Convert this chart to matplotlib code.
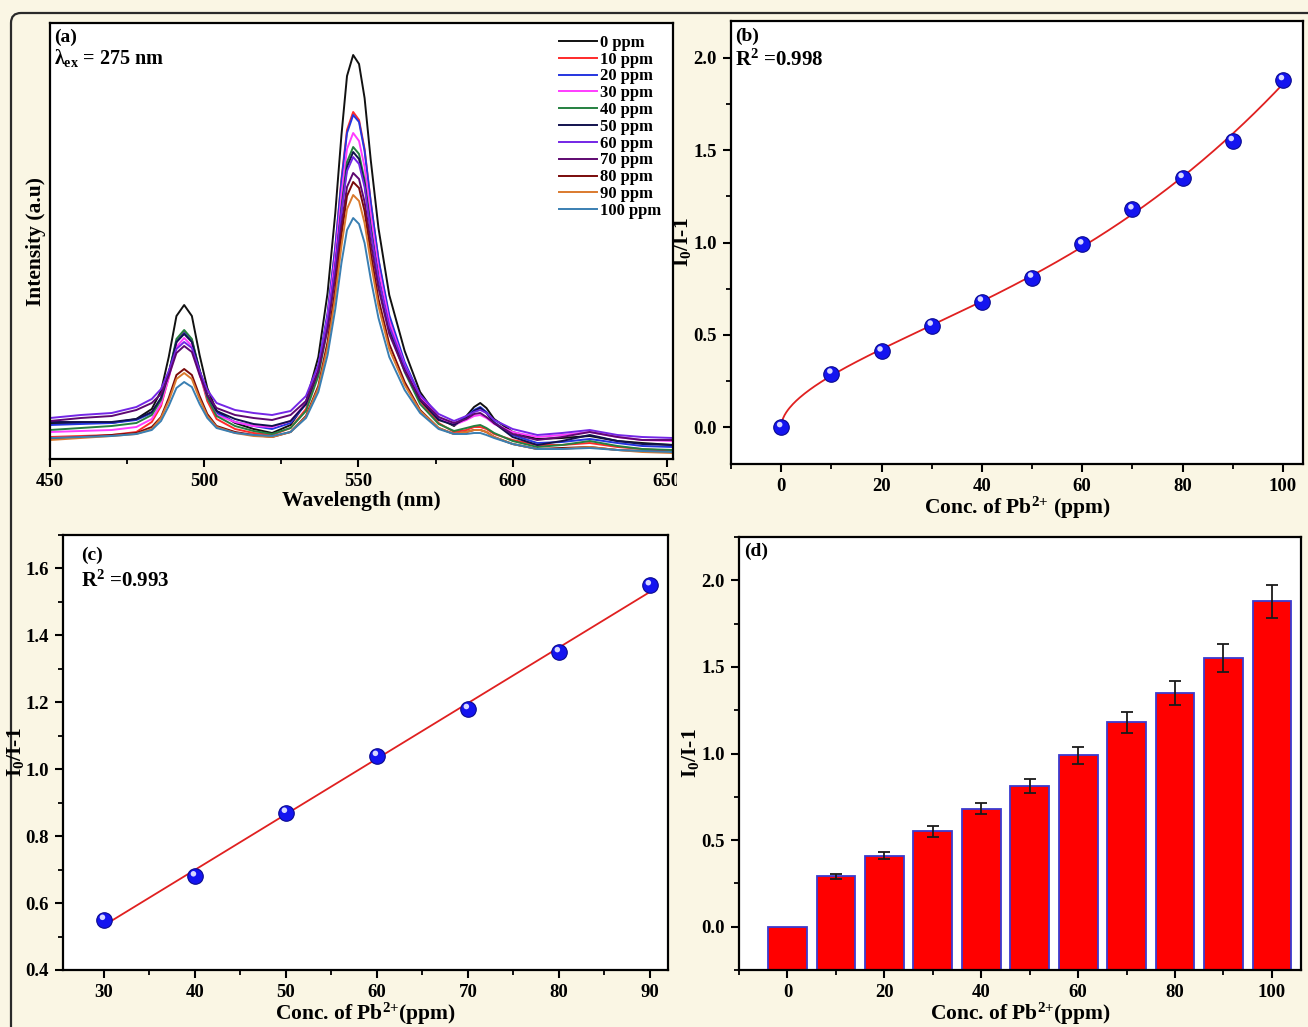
import matplotlib
matplotlib.use('Agg')
import matplotlib.pyplot as plt
import numpy as np
from matplotlib.patches import FancyBboxPatch
from matplotlib.transforms import Bbox, TransformedBbox, offset_copy
from matplotlib.ticker import MultipleLocator, FormatStrFormatter

plt.rcParams['font.family'] = ['Liberation Serif', 'DejaVu Serif']
plt.rcParams['font.weight'] = 'bold'
plt.rcParams['axes.labelweight'] = 'bold'
plt.rcParams['mathtext.fontset'] = 'custom'
plt.rcParams['mathtext.rm'] = 'Liberation Serif:bold'
plt.rcParams['mathtext.it'] = 'Liberation Serif:bold'
plt.rcParams['mathtext.bf'] = 'Liberation Serif:bold'
plt.rcParams['axes.linewidth'] = 1.6

# ---------------- data ----------------
wavelength = [450, 460, 470, 478, 483, 486, 488.5, 491, 493.5, 496, 498.5, 501, 504, 510, 516,
              522, 528, 533, 537, 540, 542.5, 544.5, 546.3, 548.3, 550.2, 552, 554, 556.5, 560,
              565, 570, 576, 581, 585, 587.5, 589.5, 591.5, 594, 600, 608, 616, 625, 634, 642, 652]

spec_0 = [36, 36, 36, 40, 50, 68, 102, 143, 154, 143, 104, 71, 48, 36, 30, 26, 34, 57, 102, 166,
          246, 324, 383, 404, 395, 361, 299, 231, 164, 108, 67, 41, 33, 43, 52, 56, 51, 40, 27, 20,
          21, 23, 18, 16, 14]
spec_10 = [22, 23, 24, 27, 37, 53, 82, 117, 128, 119, 86, 58, 40, 30, 26, 24, 31, 50, 89, 144,
           211, 280, 329, 347, 339, 310, 257, 199, 141, 93, 58, 36, 27, 29, 32, 32, 30, 25, 19, 14,
           14, 16, 12, 10, 8]
spec_20 = [34, 35, 36, 39, 46, 61, 86, 117, 126, 118, 88, 63, 46, 37, 33, 30, 36, 55, 93, 146,
           212, 278, 326, 344, 337, 308, 257, 200, 144, 97, 63, 41, 35, 42, 49, 52, 47, 37, 24, 16,
           17, 20, 16, 13, 12]
spec_30 = [27, 28, 29, 32, 40, 55, 81, 112, 121, 113, 85, 61, 44, 37, 33, 32, 38, 56, 91, 141,
           203, 265, 310, 326, 318, 292, 244, 191, 138, 94, 62, 42, 34, 39, 43, 44, 41, 35, 27, 22,
           24, 27, 22, 19, 18]
spec_40 = [29, 31, 33, 36, 44, 59, 86, 120, 129, 120, 89, 61, 43, 33, 28, 25, 31, 48, 83, 131,
           192, 252, 297, 312, 305, 279, 232, 181, 129, 87, 55, 35, 28, 31, 33, 34, 31, 26, 18, 12,
           14, 18, 13, 10, 9]
spec_50 = [37, 37, 37, 40, 47, 61, 86, 117, 125, 117, 89, 64, 48, 40, 35, 33, 38, 55, 88, 134,
           192, 249, 292, 307, 300, 275, 230, 180, 131, 89, 59, 39, 34, 41, 48, 51, 46, 36, 22, 14,
           18, 24, 18, 15, 14]
spec_60 = [41, 44, 46, 52, 60, 70, 88, 110, 117, 111, 88, 69, 56, 49, 46, 44, 48, 63, 94, 138,
           193, 248, 288, 302, 295, 272, 228, 181, 133, 93, 64, 45, 38, 43, 47, 49, 46, 39, 30, 24,
           26, 29, 24, 22, 21]
spec_70 = [38, 41, 43, 49, 56, 65, 83, 106, 113, 107, 84, 64, 51, 44, 41, 39, 44, 58, 88, 130,
           182, 234, 272, 286, 280, 257, 216, 171, 125, 88, 60, 42, 36, 40, 45, 46, 42, 36, 25, 19,
           22, 27, 22, 19, 19]
spec_80 = [20, 22, 24, 26, 32, 42, 61, 84, 90, 84, 63, 45, 33, 27, 24, 22, 27, 43, 73, 117,
           170, 224, 263, 277, 271, 248, 206, 160, 115, 77, 49, 31, 25, 27, 29, 29, 27, 22, 15, 10,
           11, 12, 9, 8, 7]
spec_90 = [19, 21, 23, 25, 30, 41, 58, 80, 86, 80, 60, 43, 32, 26, 23, 22, 27, 42, 71, 112,
           162, 213, 250, 264, 258, 236, 197, 153, 110, 74, 48, 31, 25, 27, 29, 29, 27, 22, 15, 10,
           10, 12, 9, 7, 6]
spec_100 = [21, 22, 23, 25, 29, 38, 53, 71, 77, 72, 55, 41, 31, 26, 24, 23, 27, 41, 67, 104,
            150, 196, 229, 241, 235, 216, 180, 141, 102, 69, 46, 30, 25, 25, 26, 26, 24, 21, 15, 10,
            10, 11, 9, 8, 7]

spectra = [spec_0, spec_10, spec_20, spec_30, spec_40, spec_50, spec_60, spec_70, spec_80,
           spec_90, spec_100]
spec_labels = ['0 ppm', '10 ppm', '20 ppm', '30 ppm', '40 ppm', '50 ppm', '60 ppm', '70 ppm',
               '80 ppm', '90 ppm', '100 ppm']
spec_colors = ['#111111', '#FF2A2A', '#2535E0', '#FF3CFF', '#258040', '#12124E', '#7426E6',
               '#5E0870', '#7A0A0A', '#DA7A2E', '#3A7FB2']

conc_b = [0, 10, 20, 30, 40, 50, 60, 70, 80, 90, 100]
ratio_b = [0.0, 0.29, 0.41, 0.55, 0.68, 0.81, 0.99, 1.18, 1.35, 1.55, 1.88]

conc_c = [30, 40, 50, 60, 70, 80, 90]
ratio_c = [0.55, 0.68, 0.87, 1.04, 1.18, 1.35, 1.55]

conc_d = [0, 10, 20, 30, 40, 50, 60, 70, 80, 90, 100]
ratio_d = [0.0, 0.29, 0.41, 0.55, 0.68, 0.81, 0.99, 1.18, 1.35, 1.55, 1.88]
err_d = [0.0, 0.015, 0.02, 0.03, 0.032, 0.04, 0.05, 0.06, 0.07, 0.08, 0.095]

# ---------------- figure ----------------
W, H = 1308, 1027
fig = plt.figure(figsize=(W / 100, H / 100), dpi=100)
bg = '#FAF6E4'
fig.patch.set_facecolor(bg)

frame = FancyBboxPatch((0.11, -0.6), 14.0, (H - 13) / 100 + 0.6,
                       boxstyle='round,pad=0,rounding_size=0.1',
                       transform=fig.dpi_scale_trans, facecolor=bg,
                       edgecolor='#2a2a2a', linewidth=1.6, zorder=0)
fig.add_artist(frame)


def px_axes(l, t, r, b):
    return fig.add_axes([l / W, 1 - b / H, (r - l) / W, (b - t) / H])


TICK = 13.5
LAB = 15.5
YLAB = 15.5
TAG = 14
RTXT = 15
PB = r'Conc. of Pb$^{2{+}}$'


def style(ax):
    ax.tick_params(which='major', direction='out', length=6, width=1.5, labelsize=TICK, pad=4)
    ax.tick_params(which='minor', direction='out', length=3.5, width=1.3)
    for lab in ax.get_xticklabels() + ax.get_yticklabels():
        lab.set_fontweight('bold')


def balls(ax, x, y):
    ax.scatter(x, y, s=125, c='#1414F0', edgecolors='#0A0A90', linewidths=0.8, zorder=3)
    tr = offset_copy(ax.transData, fig=fig, x=-1.5, y=2.5, units='dots')
    ax.scatter(x, y, s=16, c='#D8D8FF', edgecolors='none', transform=tr, zorder=4)


# ---- (a) ----
axa = px_axes(50, 23, 673, 459)
for s, lab, col in zip(spectra, spec_labels, spec_colors):
    axa.plot(wavelength, s, color=col, lw=1.4, label=lab, solid_joinstyle='round')
axa.set_xlim(450, 652)
axa.set_ylim(0, 436)
axa.set_yticks([])
axa.set_xticks([450, 500, 550, 600, 650])
axa.xaxis.set_minor_locator(MultipleLocator(25))
style(axa)
axa.set_xlabel('Wavelength (nm)', fontsize=LAB, fontweight='bold', labelpad=1)
axa.set_ylabel('Intensity (a.u)', fontsize=YLAB, fontweight='bold', labelpad=3)
clip = TransformedBbox(Bbox([[0, 0], [677 / W, 1]]), fig.transFigure)
for lab in axa.get_xticklabels():
    lab.set_clip_box(clip)
    lab.set_clip_on(True)
axa.text(0.006, 0.987, '(a)', transform=axa.transAxes, fontsize=TAG, fontweight='bold',
         va='top', ha='left')
axa.text(0.006, 0.946, r'$\lambda_{\mathrm{ex}}$ = 275 nm', transform=axa.transAxes,
         fontsize=TAG + 0.5, fontweight='bold', va='top', ha='left')
leg = axa.legend(loc='upper right', bbox_to_anchor=(1.0, 1.0), frameon=False,
                 prop={'family': 'Liberation Serif', 'weight': 'bold', 'size': 12},
                 handlelength=2.3, handletextpad=0.2, labelspacing=0.05, borderpad=0.2)

# ---- (b) ----
axb = px_axes(731, 21, 1303, 464)
xf = np.linspace(0, 100, 300)
xb = np.array(conc_b, dtype=float)
A = np.column_stack([np.sqrt(xb), xb, xb ** 2, xb ** 3])
coef, *_ = np.linalg.lstsq(A, np.array(ratio_b), rcond=None)
yf = np.column_stack([np.sqrt(xf), xf, xf ** 2, xf ** 3]) @ coef
axb.plot(xf, yf, color='#E02020', lw=1.3, zorder=2)
balls(axb, conc_b, ratio_b)
axb.set_xlim(-10, 104)
axb.set_ylim(-0.2, 2.2)
axb.set_xticks([0, 20, 40, 60, 80, 100])
axb.xaxis.set_minor_locator(MultipleLocator(10))
axb.set_yticks([0.0, 0.5, 1.0, 1.5, 2.0])
axb.yaxis.set_minor_locator(MultipleLocator(0.25))
axb.yaxis.set_major_formatter(FormatStrFormatter('%.1f'))
style(axb)
axb.set_xlabel(PB + ' (ppm)', fontsize=LAB, fontweight='bold', labelpad=0)
axb.set_ylabel(r'I$_{0}$/I-1', fontsize=YLAB, fontweight='bold', labelpad=0.5)
axb.text(0.007, 0.985, '(b)', transform=axb.transAxes, fontsize=TAG, fontweight='bold',
         va='top', ha='left')
axb.text(0.007, 0.935, r'R$^{2}$ =0.998', transform=axb.transAxes, fontsize=RTXT,
         fontweight='bold', va='top', ha='left')

# ---- (c) ----
axc = px_axes(63, 535, 668, 970)
fit_c = np.polyfit(conc_c, ratio_c, 1)
xc = np.array([conc_c[0], conc_c[-1]], dtype=float)
axc.plot(xc, np.polyval(fit_c, xc), color='#E02020', lw=1.3, zorder=2)
balls(axc, conc_c, ratio_c)
axc.set_xlim(25.5, 92)
axc.set_ylim(0.4, 1.7)
axc.set_xticks([30, 40, 50, 60, 70, 80, 90])
axc.xaxis.set_minor_locator(MultipleLocator(5))
axc.set_yticks([0.4, 0.6, 0.8, 1.0, 1.2, 1.4, 1.6])
axc.yaxis.set_minor_locator(MultipleLocator(0.1))
axc.yaxis.set_major_formatter(FormatStrFormatter('%.1f'))
style(axc)
axc.set_xlabel(PB + '(ppm)', fontsize=LAB, fontweight='bold', labelpad=0)
axc.set_ylabel(r'I$_{0}$/I-1', fontsize=YLAB, fontweight='bold', labelpad=0)
axc.text(0.03, 0.972, '(c)', transform=axc.transAxes, fontsize=TAG, fontweight='bold',
         va='top', ha='left')
axc.text(0.03, 0.918, r'R$^{2}$ =0.993', transform=axc.transAxes, fontsize=RTXT,
         fontweight='bold', va='top', ha='left')

# ---- (d) ----
axd = px_axes(739, 537, 1301, 970)
ymin_d = -0.25
axd.bar(conc_d, np.array(ratio_d) - ymin_d, bottom=ymin_d, width=8, color='#FF0000',
        edgecolor='#3A3AD0', linewidth=1.3, zorder=2)
err_x = [c for c, e in zip(conc_d, err_d) if e > 0]
err_y = [r for r, e in zip(ratio_d, err_d) if e > 0]
err_v = [e for e in err_d if e > 0]
axd.errorbar(err_x, err_y, yerr=err_v, fmt='none', ecolor='#1a1a1a', elinewidth=1.3,
             capsize=4, capthick=1.3, zorder=3)
axd.set_xlim(-10, 106)
axd.set_ylim(ymin_d, 2.25)
axd.set_xticks([0, 20, 40, 60, 80, 100])
axd.xaxis.set_minor_locator(MultipleLocator(10))
axd.set_yticks([0.0, 0.5, 1.0, 1.5, 2.0])
axd.yaxis.set_minor_locator(MultipleLocator(0.25))
axd.yaxis.set_major_formatter(FormatStrFormatter('%.1f'))
style(axd)
axd.set_xlabel(PB + '(ppm)', fontsize=LAB, fontweight='bold', labelpad=0)
axd.set_ylabel(r'I$_{0}$/I-1', fontsize=YLAB, fontweight='bold', labelpad=0.5)
axd.text(0.009, 0.986, '(d)', transform=axd.transAxes, fontsize=TAG, fontweight='bold',
         va='top', ha='left')

fig.savefig('out.png', dpi=100, facecolor=fig.get_facecolor())
